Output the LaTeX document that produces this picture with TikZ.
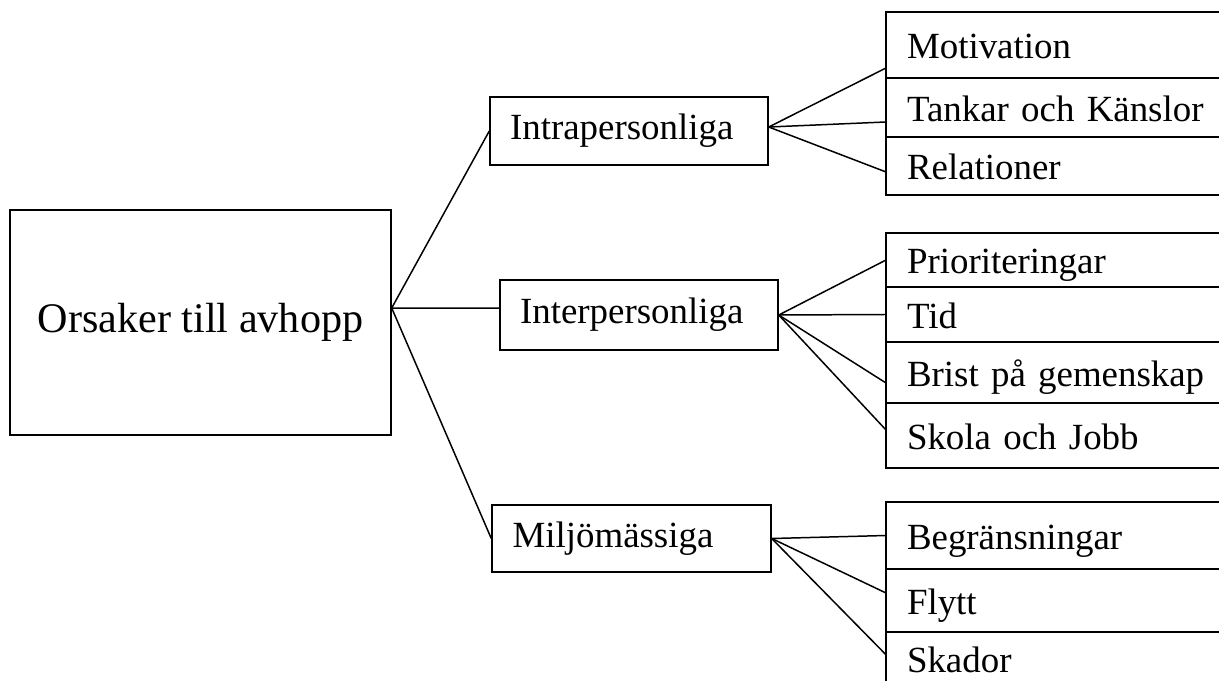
\documentclass[tikz,border=0pt]{standalone}
\usepackage{fontspec}
\setmainfont{Liberation Serif}
\usetikzlibrary{positioning}

\tikzset{
  box/.style={draw, rectangle, inner ysep=0pt, font=\fontsize{21}{25}\selectfont,
              execute at begin node=\strut},
  midbox/.style={box, minimum width=5.56cm, minimum height=1.36cm,
                 inner xsep=0.4cm, text width=4.76cm, align=left},
  leaf/.style={box, anchor=north west, outer sep=0pt, minimum width=7.1cm,
               inner xsep=0.42cm, text width=6.26cm, align=left,
               execute at begin node={\rule[-6pt]{0pt}{29pt}}}
}

\begin{document}
\begin{tikzpicture}[x=0.02cm, y=-0.02cm, node distance=0pt, line width=0.85pt]
  \useasboundingbox (0,0) rectangle (1219,680);
  \clip (0,0) rectangle (1219,680);

  % root and the three groups
  \node[box, minimum width=7.62cm, minimum height=4.5cm,
        font=\fontsize{24}{28}\selectfont] (main) at (200.5,322.5) {Orsaker till avhopp};
  \node[midbox]                        (intra) at (629,131)     {Intrapersonliga};
  \node[midbox, minimum height=1.4cm]  (inter) at (639,315)     {Interpersonliga};
  \node[midbox, minimum width=5.58cm,
        minimum height=1.34cm]         (milj)  at (631.5,538.5) {Miljömässiga};

  % leaves
  \node[leaf, minimum height=1.32cm]              (mot)   at (886,12)  {Motivation};
  \node[leaf, minimum height=1.18cm, below=of mot]  (tank)               {Tankar och Känslor};
  \node[leaf, minimum height=1.16cm, below=of tank] (rel)                {Relationer};

  \node[leaf, minimum height=1.08cm]              (prio)  at (886,233) {Prioriteringar};
  \node[leaf, minimum height=1.1cm, below=of prio]  (tid)                {Tid};
  \node[leaf, minimum height=1.22cm, below=of tid]  (brist)              {Brist på gemenskap};
  \node[leaf, minimum height=1.3cm, below=of brist] (skola)              {Skola och Jobb};

  \node[leaf, minimum height=1.34cm]              (begr)  at (886,502) {Begränsningar};
  \node[leaf, minimum height=1.26cm, below=of begr] (flytt)              {Flytt};
  \node[leaf, minimum height=1.0cm, below=of flytt] (skador)             {Skador};

  \coordinate (fork) at ([yshift=0.29cm]main.east);

  \path (fork) edge (intra.west)
               edge ([yshift=0.14cm]inter.west)
               edge (milj.west);
  \path ([yshift=0.08cm]intra.east) edge ([yshift=-0.46cm]mot.west)
                                    edge ([yshift=-0.29cm]tank.west)
                                    edge ([yshift=-0.12cm]rel.west);
  \path (inter.east) edge (prio.west)
                     edge (tid.west)
                     edge ([yshift=-0.21cm]brist.west)
                     edge ([yshift=0.11cm]skola.west);
  \path (milj.east) edge (begr.west)
                    edge ([yshift=0.15cm]flytt.west)
                    edge ([yshift=0.08cm]skador.west);
\end{tikzpicture}
\end{document}
